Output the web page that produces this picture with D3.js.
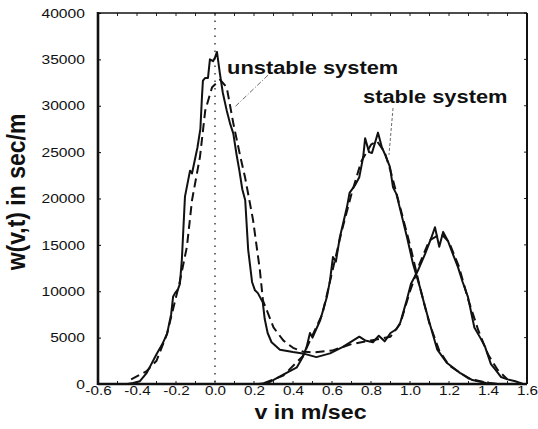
<!DOCTYPE html>
<html>
<head>
<meta charset="utf-8">
<script src="https://cdn.jsdelivr.net/npm/d3@7"></script>
<style>
  body { margin: 0; background: #fff; }
  svg { display: block; }
  text { font-family: "Liberation Sans", Arial, sans-serif; fill: #111; }
</style>
</head>
<body>
<div id="chart"></div>
<script>
// measured velocities (m/sec) and densities w(v,t) (sec/m)
const unstableV = [-0.45, -0.42, -0.385, -0.35, -0.30, -0.27, -0.246, -0.225, -0.215, -0.205, -0.19, -0.18, -0.17, -0.154, -0.128, -0.118, -0.09, -0.075, -0.067, -0.062, -0.05, -0.036, -0.026, -0.01, 0.0, 0.01, 0.025, 0.04, 0.06, 0.077, 0.094, 0.11, 0.125, 0.14, 0.155, 0.17, 0.19, 0.205, 0.22, 0.245, 0.255, 0.27, 0.29, 0.333, 0.4, 0.45, 0.52, 0.59, 0.656, 0.74, 0.77, 0.81, 0.84, 0.87, 0.9, 0.93, 0.95, 0.98, 1.005, 1.04, 1.077, 1.11, 1.128, 1.15, 1.17, 1.195, 1.22, 1.246, 1.27, 1.297, 1.33, 1.36, 1.385, 1.415, 1.44, 1.467, 1.5, 1.54, 1.58];
const unstableW = [0, 100, 300, 1200, 3200, 4300, 5400, 7500, 9400, 9800, 10200, 10800, 13400, 20200, 23000, 22700, 25500, 27500, 30900, 32700, 33000, 33000, 35000, 34800, 35200, 35800, 33500, 31400, 29500, 28100, 27000, 24800, 23000, 21000, 19800, 14500, 11000, 10100, 9800, 8800, 7000, 5500, 4500, 3700, 3450, 3300, 2900, 3300, 4000, 5100, 4700, 4500, 5200, 4600, 5500, 5900, 6600, 8800, 10800, 12200, 14000, 15800, 16900, 14800, 16400, 15400, 14000, 12600, 11000, 9400, 6100, 5000, 4000, 2150, 1500, 750, 500, 300, 0];

const stableV = [0.22, 0.27, 0.35, 0.42, 0.45, 0.47, 0.487, 0.5, 0.54, 0.574, 0.59, 0.605, 0.62, 0.64, 0.677, 0.69, 0.72, 0.74, 0.76, 0.77, 0.79, 0.805, 0.836, 0.856, 0.875, 0.897, 0.913, 0.93, 0.95, 0.985, 1.015, 1.05, 1.075, 1.1, 1.14, 1.19, 1.256, 1.32, 1.39, 1.45];
const stableW = [0, 100, 1000, 1800, 2900, 4000, 5500, 5000, 6900, 9400, 11200, 13700, 13200, 15800, 19100, 20600, 21500, 22300, 24500, 26500, 25000, 24900, 27100, 25500, 24600, 23400, 21200, 20500, 18800, 15800, 13000, 10500, 8500, 6600, 3700, 2260, 1200, 430, 100, 0];

// fitted curves (dashed)
const unstableFitV = [-0.43, -0.35, -0.3, -0.246, -0.18, -0.144, -0.118, -0.077, -0.05, -0.015, 0.026, 0.06, 0.094, 0.13, 0.154, 0.195, 0.23, 0.246, 0.3, 0.35, 0.4, 0.45, 0.5, 0.6, 0.7, 0.8, 0.9, 0.95, 1.0, 1.05, 1.1, 1.16, 1.2, 1.25, 1.3, 1.35, 1.4, 1.45, 1.5];
const unstableFitW = [500, 1400, 2500, 5400, 11100, 14800, 19800, 24500, 29500, 32000, 32800, 32000, 28100, 24500, 22300, 17700, 12300, 9000, 6100, 4700, 3900, 3500, 3400, 3600, 4300, 4700, 5100, 6500, 10000, 13000, 15500, 16200, 15300, 12700, 9000, 5800, 3200, 1500, 500];

const stableFitV = [0.25, 0.35, 0.45, 0.55, 0.65, 0.7, 0.75, 0.8, 0.83, 0.87, 0.9, 0.95, 1.0, 1.05, 1.1, 1.15, 1.2, 1.3, 1.4, 1.45];
const stableFitW = [100, 900, 3000, 7500, 16500, 20500, 24000, 25800, 26200, 25000, 23000, 19000, 15000, 10500, 6500, 3600, 2000, 600, 100, 0];

const xTicks = [-0.6, -0.4, -0.2, 0.0, 0.2, 0.4, 0.6, 0.8, 1.0, 1.2, 1.4, 1.6];
const xTickLabels = ["-0.6", "-0.4", "-0.2", "0.0", "0.2", "0.4", "0.6", "0.8", "1.0", "1.2", "1.4", "1.6"];
const xMinorTicks = d3.range(-6, 17).map(d => d / 10);
const yTicks = [0, 5000, 10000, 15000, 20000, 25000, 30000, 35000, 40000];

// annotation labels: text, anchor point, leader line from/to (data coords)
const labels = [
    { text: "unstable system", v: 0.062, w: 33400, from: [0.272, 33300], to: [0.103, 29900], dash: "5,2,1,2" },
    { text: "stable system", v: 0.759, w: 30300, from: [0.913, 29750], to: [0.892, 24700], dash: "3,2" }
];

const W = 538, H = 429;
const margin = { top: 13, right: 11, bottom: 45, left: 98 };
const stretch = 1.12; // the scanned figure is a little wider than it is tall

const svg = d3.select("#chart").append("svg")
    .attr("width", W)
    .attr("height", H);

const x = d3.scaleLinear().domain([-0.6, 1.6]).range([margin.left, W - margin.right]);
const y = d3.scaleLinear().domain([0, 40000]).range([H - margin.bottom, margin.top]);

// dotted line at v = 0
svg.append("line")
    .attr("x1", x(0)).attr("x2", x(0))
    .attr("y1", y(40000)).attr("y2", y(0))
    .attr("stroke", "#333")
    .attr("stroke-width", 1.4)
    .attr("stroke-dasharray", "1.5,6");

// minor ticks on bottom and top
[y(0), y(40000)].forEach((yy, i) => {
    svg.append("g")
        .selectAll("line")
        .data(xMinorTicks)
        .join("line")
        .attr("x1", d => x(d)).attr("x2", d => x(d))
        .attr("y1", yy).attr("y2", i === 0 ? yy - 3 : yy + 3)
        .attr("stroke", "#222")
        .attr("stroke-width", 1);
});

// y axis
const yAxis = svg.append("g")
    .attr("transform", `translate(${margin.left},0)`)
    .call(d3.axisLeft(y).tickValues(yTicks).tickSize(-3).tickPadding(11).tickFormat(d3.format("d")));
yAxis.select(".domain").remove();
yAxis.selectAll("text")
    .attr("font-size", 13)
    .attr("transform", `scale(${stretch + 0.08},1)`);

// right side ticks
svg.append("g")
    .selectAll("line")
    .data(yTicks)
    .join("line")
    .attr("x1", W - margin.right).attr("x2", W - margin.right - 3)
    .attr("y1", d => y(d)).attr("y2", d => y(d))
    .attr("stroke", "#222");

// x axis
const xAxis = svg.append("g")
    .attr("transform", `translate(0,${H - margin.bottom})`)
    .call(d3.axisBottom(x).tickValues(xTicks).tickSize(0).tickPadding(2)
        .tickFormat((d, i) => xTickLabels[i]));
xAxis.select(".domain").remove();
xAxis.selectAll("text")
    .attr("font-size", 12.5)
    .attr("transform", `scale(${stretch + 0.1},1)`);

// frame
const frame = svg.append("g").attr("stroke", "#111").attr("fill", "none");
frame.append("line").attr("x1", x(-0.6)).attr("x2", x(-0.6)).attr("y1", y(40000) - 1).attr("y2", y(0) + 1).attr("stroke-width", 2.6);
frame.append("line").attr("x1", x(-0.6)).attr("x2", x(1.6)).attr("y1", y(0)).attr("y2", y(0)).attr("stroke-width", 2.6);
frame.append("line").attr("x1", x(-0.6)).attr("x2", x(1.6)).attr("y1", y(40000)).attr("y2", y(40000)).attr("stroke-width", 1.6);
frame.append("line").attr("x1", x(1.6)).attr("x2", x(1.6)).attr("y1", y(40000)).attr("y2", y(0)).attr("stroke-width", 2);

// curves
const line = d3.line().x(d => x(d[0])).y(d => y(d[1]));
const series = [
    { v: unstableFitV, w: unstableFitW, dash: "9,5" },
    { v: stableFitV, w: stableFitW, dash: "9,5" },
    { v: unstableV, w: unstableW, dash: null },
    { v: stableV, w: stableW, dash: null }
];
svg.append("g")
    .selectAll("path")
    .data(series)
    .join("path")
    .attr("d", s => line(d3.zip(s.v, s.w)))
    .attr("fill", "none")
    .attr("stroke", "#111")
    .attr("stroke-width", 2)
    .attr("stroke-linejoin", "round")
    .attr("stroke-dasharray", s => s.dash);

// annotations
labels.forEach(l => {
    svg.append("line")
        .attr("x1", x(l.from[0])).attr("y1", y(l.from[1]))
        .attr("x2", x(l.to[0])).attr("y2", y(l.to[1]))
        .attr("stroke", "#444")
        .attr("stroke-width", 0.8)
        .attr("stroke-dasharray", l.dash);
    svg.append("text")
        .attr("transform", `translate(${x(l.v)},${y(l.w)}) scale(1.15,1)`)
        .attr("font-size", 19)
        .attr("font-weight", "bold")
        .text(l.text);
});

// axis titles
svg.append("text")
    .attr("transform", `translate(${(x(-0.6) + x(1.6)) / 2 - 2},419) scale(${stretch + 0.04},1)`)
    .attr("text-anchor", "middle")
    .attr("font-size", 20)
    .attr("font-weight", "bold")
    .text("v in m/sec");

svg.append("text")
    .attr("transform", `translate(25,192) scale(${stretch},1) rotate(-90)`)
    .attr("text-anchor", "middle")
    .attr("font-size", 23)
    .attr("font-weight", "bold")
    .text("w(v,t) in sec/m");
</script>
</body>
</html>
